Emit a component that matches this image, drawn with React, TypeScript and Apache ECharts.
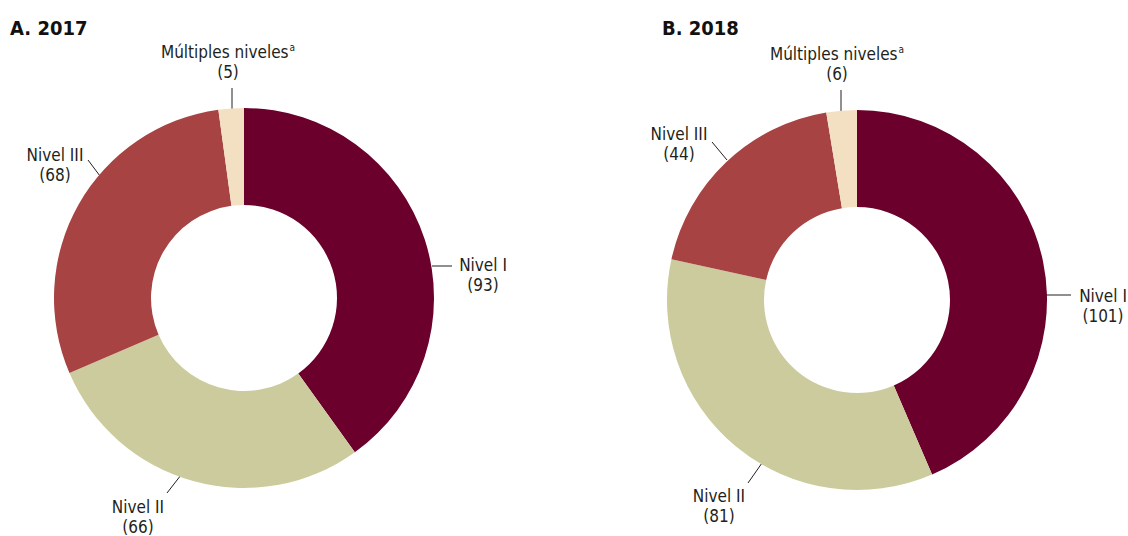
import React, { useEffect, useRef } from "react";
import * as echarts from "echarts";

const categories = ["Nivel I", "Nivel II", "Nivel III", "Múltiples niveles"];
const values2017 = [93, 66, 68, 5];
const values2018 = [101, 81, 44, 6];
const titles = ["A. 2017", "B. 2018"];
const colors = ["#6a002b", "#cccb9d", "#a84343", "#f3e0c3"];

const FONT = "'Liberation Sans Narrow', 'DejaVu Sans Condensed', 'Roboto', sans-serif";

// label anchor positions (layout only)
const LABEL_LAYOUT = [
  [
    { x: 483, y: 275, line: [[432, 266], [452, 266], [452, 266]] },
    { x: 138, y: 517, line: [[181, 475], [167, 493], [167, 493]] },
    { x: 55, y: 165, line: [[100, 176], [88, 160], [88, 160]] },
    { x: 228, y: 62, line: [[232, 109], [232, 88], [232, 88]] },
  ],
  [
    { x: 1103, y: 306, line: [[1046, 295], [1071, 295], [1071, 295]] },
    { x: 719, y: 506, line: [[762, 463], [748, 483], [748, 483]] },
    { x: 679, y: 144, line: [[727, 160], [712, 142], [712, 142]] },
    { x: 837, y: 64, line: [[841, 111], [841, 90], [841, 90]] },
  ],
];

function makeSeries(values: number[], idx: number, center: [number, number]) {
  return {
    type: "pie",
    center,
    radius: [93, 190],
    startAngle: 90,
    clockwise: true,
    avoidLabelOverlap: false,
    data: categories.map((name, i) => ({
      name,
      value: values[i],
      itemStyle: { color: colors[i] },
    })),
    label: {
      show: true,
      position: "outside",
      formatter: (p: any) =>
        p.name === "Múltiples niveles"
          ? `{n|Múltiples niveles}{s|a}\n{n|(${p.value})}`
          : `{n|${p.name}}\n{n|(${p.value})}`,
      rich: {
        n: { fontFamily: FONT, fontSize: 17, lineHeight: 20, color: "#231f20" },
        s: { fontFamily: FONT, fontSize: 10, lineHeight: 20, verticalAlign: "top", color: "#231f20", padding: [0, 0, 6, 1] },
      },
    },
    labelLine: { show: true, lineStyle: { color: "#231f20", width: 1 } },
    labelLayout: (params: any) => {
      const p = LABEL_LAYOUT[idx][params.dataIndex];
      return { x: p.x, y: p.y, align: "center", verticalAlign: "middle", labelLinePoints: p.line };
    },
    emphasis: { disabled: true },
  };
}

export default function App() {
  const ref = useRef<HTMLDivElement>(null);
  useEffect(() => {
    document.body.style.margin = "0";
    const chart = echarts.init(ref.current!, null, { renderer: "svg" });
    chart.setOption({
      animation: false,
      backgroundColor: "#ffffff",
      title: [
        { text: titles[0], left: 5, top: 13, textStyle: { fontFamily: FONT, fontSize: 20, fontWeight: "bold", color: "#111" } },
        { text: titles[1], left: 657, top: 13, textStyle: { fontFamily: FONT, fontSize: 20, fontWeight: "bold", color: "#111" } },
      ],
      series: [
        makeSeries(values2017, 0, [244, 298]),
        makeSeries(values2018, 1, [857, 300]),
      ],
    });
    return () => chart.dispose();
  }, []);
  return <div ref={ref} style={{ width: 1128, height: 536 }} />;
}
